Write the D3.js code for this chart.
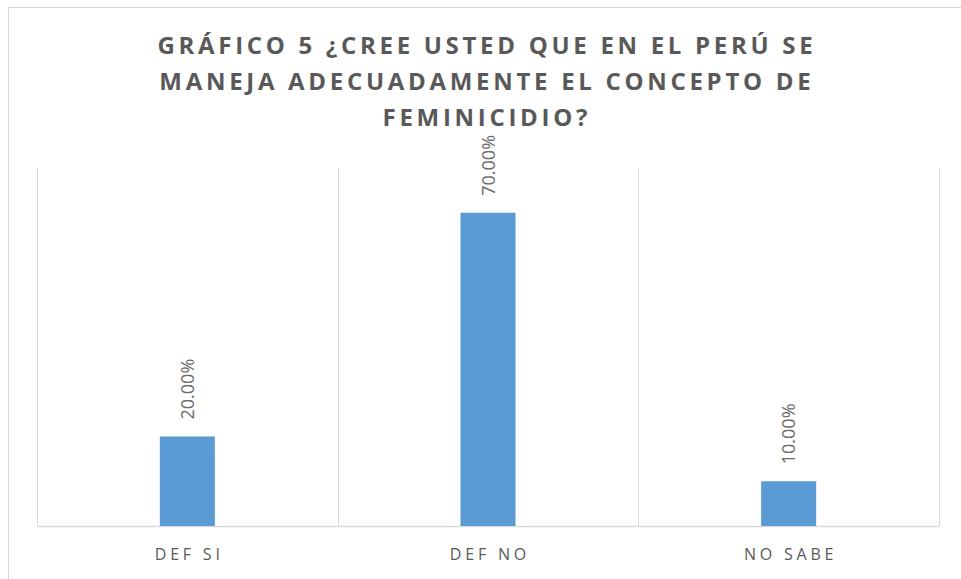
<!DOCTYPE html>
<html><head><meta charset="utf-8">
<script src="https://cdn.jsdelivr.net/npm/d3@7"></script>
<style>
html,body{margin:0;padding:0;background:#fff;}
svg{display:block;}
</style></head>
<body>
<svg id="c" width="961" height="579"></svg>
<script>
const categories = ["DEF SI", "DEF NO", "NO SABE"];
const values = [0.20, 0.70, 0.10];
const valueLabels = ["20.00%", "70.00%", "10.00%"];
const titleLines = ["GRÁFICO 5 ¿CREE USTED QUE EN EL PERÚ SE", "MANEJA ADECUADAMENTE EL CONCEPTO DE", "FEMINICIDIO?"];
const yMax = 0.8;

const svg = d3.select("#c");
const gray = "#595959";
// outer chart border (right/bottom cut off)
svg.append("rect").attr("x", 8.5).attr("y", 7.5).attr("width", 1000).attr("height", 1000)
  .attr("fill", "none").attr("stroke", "#d9d9d9").attr("stroke-width", 1);

const plot = {left: 37, right: 939, top: 168, bottom: 526};
const x = d3.scaleBand().domain(categories).range([plot.left, plot.right]).padding(0);
const y = d3.scaleLinear().domain([0, yMax]).range([plot.bottom, plot.top]);

// vertical gridlines at category boundaries
const bounds = categories.map(c => x(c)).concat([x(categories[categories.length-1]) + x.bandwidth()]);
svg.append("g").selectAll("line").data(bounds).join("line")
  .attr("x1", d => Math.round(d) + 0.5).attr("x2", d => Math.round(d) + 0.5)
  .attr("y1", y(yMax)).attr("y2", y(0))
  .attr("stroke", "#d9d9d9").attr("stroke-width", 1);

// baseline
svg.append("line").attr("x1", plot.left).attr("x2", plot.right)
  .attr("y1", y(0) + 0.5).attr("y2", y(0) + 0.5)
  .attr("stroke", "#d9d9d9").attr("stroke-width", 1.5);

const barW = x.bandwidth() * 0.183;
svg.append("g").selectAll("rect").data(values).join("rect")
  .attr("x", (d, i) => x(categories[i]) + x.bandwidth() / 2 - barW / 2)
  .attr("y", d => y(d))
  .attr("width", barW)
  .attr("height", d => y(0) - y(d))
  .attr("fill", "#5B9BD5");

// data labels rotated
svg.append("g").selectAll("text").data(values).join("text")
  .attr("transform", (d, i) => `translate(${x(categories[i]) + x.bandwidth() / 2 + 6.5},${y(d) - 17}) rotate(-90)`)
  .attr("text-anchor", "start")
  .attr("font-family", "'Open Sans', sans-serif")
  .attr("font-size", 18)
  .attr("fill", "#6b6b6b")
  .text((d, i) => valueLabels[i]);

// category labels
const catLS = 3.8;
svg.append("g").selectAll("text").data(categories).join("text")
  .attr("x", d => x(d) + x.bandwidth() / 2 + catLS / 2)
  .attr("y", 560)
  .attr("text-anchor", "middle")
  .attr("font-family", "'Open Sans', sans-serif")
  .attr("font-size", 16)
  .attr("letter-spacing", catLS + "px")
  .attr("fill", gray)
  .text(d => d);

// title
const tY = [54, 90, 126];
const tLS = 3.7;
svg.append("g").selectAll("text").data(titleLines).join("text")
  .attr("x", 485 + tLS / 2)
  .attr("y", (d, i) => tY[i])
  .attr("text-anchor", "middle")
  .attr("font-family", "'Open Sans', sans-serif")
  .attr("font-weight", "bold")
  .attr("font-size", 24)
  .attr("letter-spacing", tLS + "px")
  .attr("fill", gray)
  .text(d => d);
</script>
</body></html>
